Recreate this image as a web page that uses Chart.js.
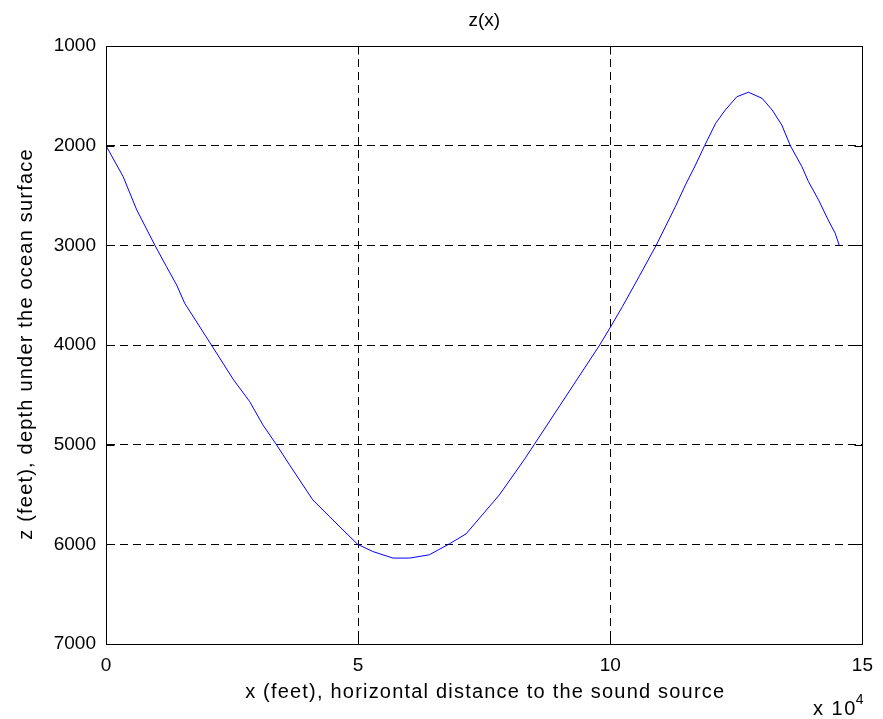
<!DOCTYPE html>
<html>
<head>
<meta charset="utf-8">
<script src="https://cdn.jsdelivr.net/npm/chart.js@4.4.0/dist/chart.umd.min.js"></script>
<style>
  html, body { margin: 0; padding: 0; background: #fff; }
</style>
</head>
<body>
<canvas id="chart" width="883" height="719"></canvas>
<script>
// horizontal distance, in units of 10^4 feet
const xValues = [0, 0.34, 0.61, 0.97, 1.20, 1.40, 1.56, 2.09, 2.53, 2.85, 3.11, 3.38, 3.64, 4.10, 4.43,
  4.99, 5.29, 5.69, 6.02, 6.41, 6.81, 7.14, 7.80, 8.29, 8.49, 9.79, 10.01, 10.24, 10.57, 10.91,
  11.29, 11.49, 11.69, 11.87, 12.09, 12.28, 12.51, 12.74, 13.01, 13.21, 13.40, 13.57, 13.80,
  13.93, 14.13, 14.32, 14.46, 14.54]
// depth under the surface (feet)
const depthValues = [2000, 2311, 2645, 3000, 3214, 3397, 3581, 4000, 4350, 4568, 4801, 5000, 5203, 5554, 5721,
  6000, 6072, 6138, 6138, 6105, 5995, 5895, 5504, 5153, 5000, 4000, 3815, 3615, 3314, 3000,
  2612, 2394, 2194, 2000, 1775, 1642, 1509, 1464, 1525, 1642, 1792, 2000, 2211,
  2361, 2545, 2745, 2879, 3000]

const xTicks = [0, 5, 10, 15]
const zTicks = [1000, 2000, 3000, 4000, 5000, 6000, 7000]

const titleText = 'z(x)'
const xTitle = 'x (feet), horizontal distance to the sound source'
const yTitle = 'z (feet), depth under the ocean surface'

const FONT = '"Liberation Sans", Arial, Helvetica, sans-serif'
Chart.defaults.font.family = FONT
Chart.defaults.font.size = 19
Chart.defaults.color = '#000'

// matlab-ish frame: box, inward ticks, titles and the x10^4 note
const matlabFrame = {
  id: 'matlabFrame',
  afterDraw(chart) {
    const { ctx, chartArea: a, scales: { x, y } } = chart
    const L = Math.round(a.left) + 0.5
    const R = Math.round(a.right) + 0.5
    const T = Math.round(a.top) + 0.5
    const B = Math.round(a.bottom) + 0.5
    ctx.save()
    ctx.strokeStyle = '#000'
    ctx.lineWidth = 1
    ctx.setLineDash([])
    ctx.strokeRect(L, T, R - L, B - T)

    ctx.beginPath()
    xTicks.forEach(v => {
      const px = Math.round(x.getPixelForValue(v)) + 0.5
      ctx.moveTo(px, B); ctx.lineTo(px, B - 8)
      ctx.moveTo(px, T); ctx.lineTo(px, T + 8)
    })
    zTicks.forEach(v => {
      const py = Math.round(y.getPixelForValue(v)) + 0.5
      ctx.moveTo(L, py); ctx.lineTo(L + 8, py)
      ctx.moveTo(R, py); ctx.lineTo(R - 8, py)
    })
    ctx.stroke()

    const cx = (a.left + a.right) / 2
    ctx.fillStyle = '#000'
    ctx.font = '19px ' + FONT
    ctx.textAlign = 'center'
    ctx.textBaseline = 'middle'
    ctx.fillText(titleText, cx, 21)

    ctx.font = '20px ' + FONT
    ctx.letterSpacing = '1.2px'
    ctx.fillText(xTitle, cx + 1, 692)

    ctx.save()
    ctx.translate(26, (a.top + a.bottom) / 2)
    ctx.rotate(-Math.PI / 2)
    ctx.fillText(yTitle, 1, 0)
    ctx.restore()

    ctx.textAlign = 'left'
    ctx.textBaseline = 'alphabetic'
    ctx.letterSpacing = '1.5px'
    ctx.fillText('x 10', 813, 715)
    const w = ctx.measureText('x 10').width
    ctx.letterSpacing = '0px'
    ctx.font = '14px ' + FONT
    ctx.fillText('4', 813 + w - 1, 704)
    ctx.restore()
  }
}

new Chart(document.getElementById('chart'), {
  type: 'line',
  data: {
    datasets: [{
      data: xValues.map((v, i) => ({ x: v, y: depthValues[i] })),
      borderColor: '#0000ff',
      borderWidth: 1,
      pointRadius: 0,
      tension: 0,
      fill: false
    }]
  },
  options: {
    responsive: false,
    animation: false,
    layout: { padding: { top: 46, right: 19, left: 0, bottom: 0 } },
    plugins: {
      legend: { display: false },
      tooltip: { enabled: false }
    },
    scales: {
      x: {
        type: 'linear',
        min: 0,
        max: 15,
        afterBuildTicks: s => { s.ticks = xTicks.map(v => ({ value: v })) },
        afterFit: s => { s.height = 75 },
        grid: { color: '#000', lineWidth: 1, drawTicks: false },
        border: { display: true, color: '#000', dash: [8, 5] },
        ticks: { padding: 10, maxRotation: 0, callback: v => String(v) }
      },
      y: {
        type: 'linear',
        reverse: true,
        min: 1000,
        max: 7000,
        afterBuildTicks: s => { s.ticks = zTicks.map(v => ({ value: v })) },
        afterFit: s => { s.width = 106 },
        grid: { color: '#000', lineWidth: 1, drawTicks: false },
        border: { display: true, color: '#000', dash: [8, 5] },
        ticks: { padding: 10, callback: v => String(v) }
      }
    }
  },
  plugins: [matlabFrame]
})
</script>
</body>
</html>
